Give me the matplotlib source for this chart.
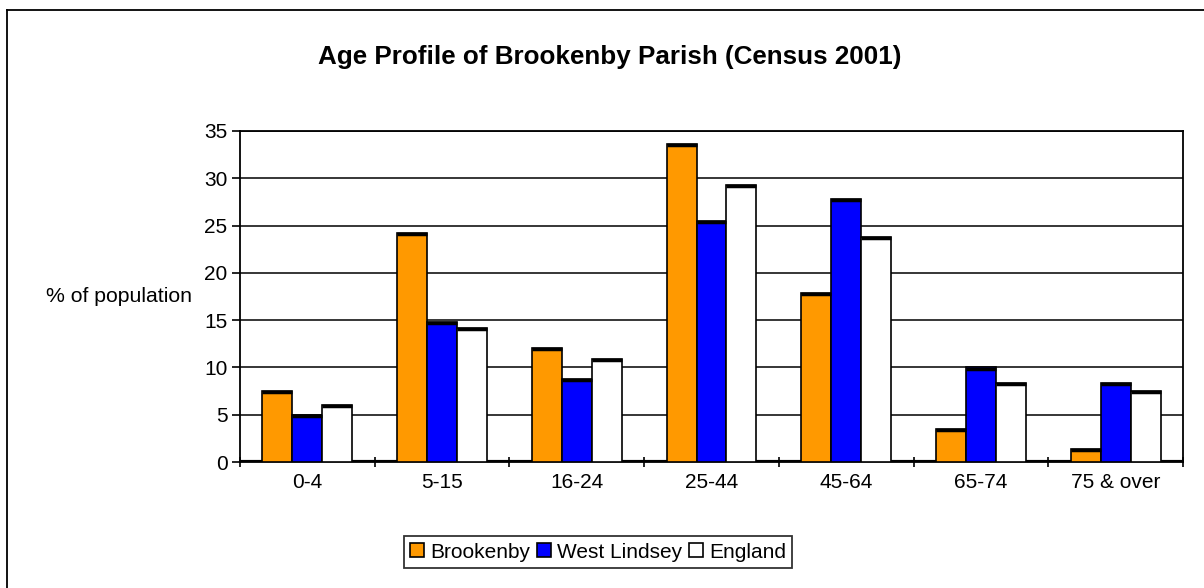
import numpy as np
import matplotlib
matplotlib.use("Agg")
import matplotlib.pyplot as plt
from matplotlib.lines import Line2D
from matplotlib.ticker import FixedLocator

plt.rcParams['font.family'] = ['Liberation Sans', 'DejaVu Sans']

# data
age_groups   = ['0-4', '5-15', '16-24', '25-44', '45-64', '65-74', '75 & over']
brookenby    = [7.5, 24.2, 12.1, 33.6, 17.9, 3.5, 1.4]
west_lindsey = [5.0, 14.8, 8.8, 25.5, 27.8, 10.0, 8.4]
england      = [6.0, 14.2, 10.9, 29.3, 23.8, 8.4, 7.5]
series_names = ['Brookenby', 'West Lindsey', 'England']
colors       = ['#FF9900', '#0000FF', '#FFFFFF']

W, H = 1204, 588
fig = plt.figure(figsize=(W / 100, H / 100), dpi=100)
ax = fig.add_axes([240 / W, 1 - 462 / H, (1183 - 240) / W, (462 - 131) / H])

x = np.arange(len(age_groups))
bw = 0.222
handles = []
for i, (vals, name, c) in enumerate(zip([brookenby, west_lindsey, england],
                                        series_names, colors)):
    pos = x + (i - 1) * bw
    b = ax.bar(pos, vals, width=bw, color=c, edgecolor='black',
               linewidth=1.2, label=name, zorder=3)
    # thick top edge (Excel style)
    ax.hlines(np.array(vals) - 0.12, pos - bw / 2, pos + bw / 2,
              colors='black', linewidth=2.5, zorder=4)
    handles.append(b)

ax.set_xlim(-0.5, len(age_groups) - 0.5)
ax.set_ylim(0, 35)
ax.set_yticks(np.arange(0, 36, 5))
ax.yaxis.grid(True, color='black', linewidth=1.1, zorder=0)
ax.set_axisbelow(True)
ax.axhline(0, color='black', linewidth=3, zorder=2)

ax.set_xticks(x)
ax.set_xticklabels(age_groups)
ax.tick_params(axis='x', which='major', length=0, pad=8, labelsize=15)
ax.xaxis.set_minor_locator(FixedLocator(np.arange(-0.5, len(age_groups), 1.0)))
ax.tick_params(axis='x', which='minor', length=7, width=1.2, direction='inout')
ax.tick_params(axis='y', length=6, width=1.2, direction='out', pad=3, labelsize=15)
for s in ax.spines.values():
    s.set_linewidth(1.3)

fig.text(119 / W, 1 - 297 / H, '% of population', fontsize=15.3,
         ha='center', va='center')
fig.text(610 / W, 1 - 57 / H, 'Age Profile of Brookenby Parish (Census 2001)',
         fontsize=18.7, fontweight='bold', ha='center', va='center')

leg = fig.legend(handles=handles, labels=series_names, loc='center',
                 bbox_to_anchor=(598 / W, 1 - 552 / H), ncol=3, fontsize=15,
                 frameon=True, fancybox=False, edgecolor='black',
                 handlelength=0.65, handleheight=0.65, handletextpad=0.3,
                 columnspacing=0.35, borderpad=0.3, borderaxespad=0)
leg.get_frame().set_linewidth(1.3)

# outer chart border (left and top visible)
fig.add_artist(Line2D([7 / W, 7 / W], [0, 1 - 10 / H], color='black', linewidth=1.3))
fig.add_artist(Line2D([7 / W, 1], [1 - 10 / H, 1 - 10 / H], color='black', linewidth=1.3))

fig.savefig('out.png', dpi=100, facecolor='white')
